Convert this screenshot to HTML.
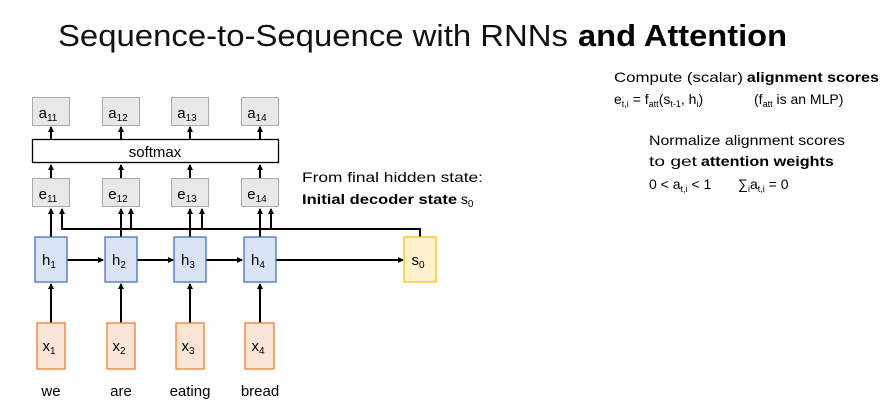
<!DOCTYPE html>
<html><head><meta charset="utf-8"><style>
html,body{margin:0;padding:0;background:#fff;}
svg{display:block;font-family:"Liberation Sans",sans-serif;}
</style></head><body>
<svg width="887" height="414" viewBox="0 0 887 414" xmlns="http://www.w3.org/2000/svg">
<defs>
<marker id="ar" markerWidth="6" markerHeight="6" refX="5" refY="3" orient="auto" markerUnits="userSpaceOnUse">
<path d="M0,0 L6,3 L0,6 z" fill="#000"/></marker>
</defs>
<text x="58" y="46" font-size="31" textLength="510" lengthAdjust="spacingAndGlyphs" fill="#111">Sequence-to-Sequence with RNNs</text>
<text x="578" y="46" font-size="31" textLength="209" lengthAdjust="spacingAndGlyphs" fill="#000" font-weight="bold">and Attention</text>

<g stroke="#000" stroke-width="2" fill="none">
<!-- x to h -->
<line x1="51" y1="323" x2="51" y2="284" marker-end="url(#ar)"/>
<line x1="121" y1="323" x2="121" y2="284" marker-end="url(#ar)"/>
<line x1="190" y1="323" x2="190" y2="284" marker-end="url(#ar)"/>
<line x1="260" y1="323" x2="260" y2="284" marker-end="url(#ar)"/>
<!-- h to h -->
<line x1="67" y1="260" x2="103" y2="260" marker-end="url(#ar)"/>
<line x1="137" y1="260" x2="173" y2="260" marker-end="url(#ar)"/>
<line x1="206" y1="260" x2="242" y2="260" marker-end="url(#ar)"/>
<line x1="276" y1="260" x2="403" y2="260" marker-end="url(#ar)"/>
<!-- s0 line -->
<polyline points="420,237 420,229 62,229 62,209" marker-end="url(#ar)"/>
<line x1="131" y1="229" x2="131" y2="209" marker-end="url(#ar)"/>
<line x1="202" y1="229" x2="202" y2="209" marker-end="url(#ar)"/>
<line x1="271" y1="229" x2="271" y2="209" marker-end="url(#ar)"/>
<!-- h to e -->
<line x1="51" y1="237" x2="51" y2="209" marker-end="url(#ar)"/>
<line x1="121" y1="237" x2="121" y2="209" marker-end="url(#ar)"/>
<line x1="190" y1="237" x2="190" y2="209" marker-end="url(#ar)"/>
<line x1="260" y1="237" x2="260" y2="209" marker-end="url(#ar)"/>
<!-- e to softmax -->
<line x1="51" y1="178" x2="51" y2="165" marker-end="url(#ar)"/>
<line x1="121" y1="178" x2="121" y2="165" marker-end="url(#ar)"/>
<line x1="190" y1="178" x2="190" y2="165" marker-end="url(#ar)"/>
<line x1="260" y1="178" x2="260" y2="165" marker-end="url(#ar)"/>
<!-- softmax to a -->
<line x1="51" y1="139" x2="51" y2="127" marker-end="url(#ar)"/>
<line x1="121" y1="139" x2="121" y2="127" marker-end="url(#ar)"/>
<line x1="190" y1="139" x2="190" y2="127" marker-end="url(#ar)"/>
<line x1="260" y1="139" x2="260" y2="127" marker-end="url(#ar)"/>
</g>

<g fill="#e8e8e8" stroke="#aaa" stroke-width="1">
<rect x="32.5" y="97.5" width="37" height="28"/>
<rect x="102.5" y="97.5" width="37" height="28"/>
<rect x="171.5" y="97.5" width="37" height="28"/>
<rect x="241.5" y="97.5" width="37" height="28"/>
<rect x="32.5" y="178.5" width="37" height="28"/>
<rect x="102.5" y="178.5" width="37" height="28"/>
<rect x="171.5" y="178.5" width="37" height="28"/>
<rect x="241.5" y="178.5" width="37" height="28"/>
</g>
<rect x="32.5" y="139.5" width="246" height="23" fill="#fff" stroke="#000" stroke-width="1.3"/>
<g fill="#dae3f3" stroke="#4472c4" stroke-width="1.3">
<rect x="35" y="237" width="32" height="45"/>
<rect x="105" y="237" width="32" height="45"/>
<rect x="174" y="237" width="32" height="45"/>
<rect x="244" y="237" width="32" height="45"/>
</g>
<rect x="404" y="237" width="32" height="45" fill="#fff2cc" stroke="#ffc000" stroke-width="1.3"/>
<g fill="#fbe5d6" stroke="#ed7d31" stroke-width="1.3">
<rect x="37" y="323" width="28" height="46"/>
<rect x="107" y="323" width="28" height="46"/>
<rect x="176" y="323" width="28" height="46"/>
<rect x="245" y="323" width="29" height="46"/>
</g>

<g font-size="15" fill="#000" text-anchor="middle">
<text x="48" y="118">a<tspan font-size="10" dy="3">11</tspan></text>
<text x="118" y="118">a<tspan font-size="10" dy="3">12</tspan></text>
<text x="187" y="118">a<tspan font-size="10" dy="3">13</tspan></text>
<text x="257" y="118">a<tspan font-size="10" dy="3">14</tspan></text>
<text x="155" y="157">softmax</text>
<text x="48" y="199">e<tspan font-size="10" dy="3">11</tspan></text>
<text x="118" y="199">e<tspan font-size="10" dy="3">12</tspan></text>
<text x="187" y="199">e<tspan font-size="10" dy="3">13</tspan></text>
<text x="257" y="199">e<tspan font-size="10" dy="3">14</tspan></text>
<text x="49" y="265">h<tspan font-size="10" dy="3">1</tspan></text>
<text x="119" y="265">h<tspan font-size="10" dy="3">2</tspan></text>
<text x="188" y="265">h<tspan font-size="10" dy="3">3</tspan></text>
<text x="258" y="265">h<tspan font-size="10" dy="3">4</tspan></text>
<text x="418" y="265">s<tspan font-size="10" dy="3">0</tspan></text>
<text x="49" y="351">x<tspan font-size="10" dy="3">1</tspan></text>
<text x="119" y="351">x<tspan font-size="10" dy="3">2</tspan></text>
<text x="188" y="351">x<tspan font-size="10" dy="3">3</tspan></text>
<text x="258" y="351">x<tspan font-size="10" dy="3">4</tspan></text>
<text x="51" y="396">we</text>
<text x="121" y="396">are</text>
<text x="190" y="396">eating</text>
<text x="260" y="396">bread</text>
</g>

<g font-size="14" fill="#000">
<text x="302" y="182" textLength="181" lengthAdjust="spacingAndGlyphs">From final hidden state:</text>
<text x="302" y="204"><tspan font-weight="bold" textLength="155" lengthAdjust="spacingAndGlyphs">Initial decoder state</tspan> s<tspan font-size="10" dy="3">0</tspan></text>

<text x="614" y="82"><tspan textLength="129" lengthAdjust="spacingAndGlyphs">Compute (scalar)</tspan> <tspan font-weight="bold" textLength="132" lengthAdjust="spacingAndGlyphs">alignment scores</tspan></text>
<text x="614" y="104">e<tspan font-size="9" dy="3">t,i</tspan><tspan dy="-3"> = f</tspan><tspan font-size="9" dy="3">att</tspan><tspan dy="-3">(s</tspan><tspan font-size="9" dy="3">t-1</tspan><tspan dy="-3">, h</tspan><tspan font-size="9" dy="3">i</tspan><tspan dy="-3">)</tspan></text>
<text x="754" y="104">(f<tspan font-size="9" dy="3">att</tspan><tspan dy="-3"> is an MLP)</tspan></text>
<text x="649" y="145" textLength="196" lengthAdjust="spacingAndGlyphs">Normalize alignment scores</text>
<text x="649" y="166"><tspan textLength="48" lengthAdjust="spacingAndGlyphs">to get</tspan> <tspan font-weight="bold" textLength="133" lengthAdjust="spacingAndGlyphs">attention weights</tspan></text>
<text x="649" y="189">0 &lt; a<tspan font-size="9" dy="3">t,i</tspan><tspan dy="-3"> &lt; 1</tspan></text>
<text x="738" y="189">∑<tspan font-size="9" dy="3">i</tspan><tspan dy="-3">a</tspan><tspan font-size="9" dy="3">t,i</tspan><tspan dy="-3"> = 0</tspan></text>
</g>
</svg>
</body></html>
